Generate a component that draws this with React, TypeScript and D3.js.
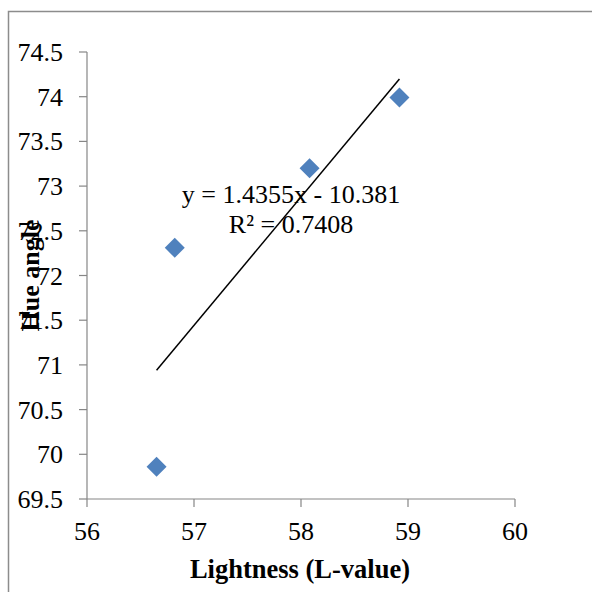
import React, { useEffect, useRef } from 'react';
import * as d3 from 'd3';

// data
const lightness = [56.65, 56.82, 58.08, 58.92];
const hueAngle = [69.86, 72.31, 73.2, 73.99];
const xTicks = [56, 57, 58, 59, 60];
const yTicks = [69.5, 70, 70.5, 71, 71.5, 72, 72.5, 73, 73.5, 74, 74.5];
const slope = 1.4355;
const intercept = -10.381;
const eqLabel = 'y = 1.4355x - 10.381';
const r2Label = 'R² = 0.7408';

const App = () => {
  const svgRef = useRef<SVGSVGElement>(null);

  useEffect(() => {
    const svg = d3.select(svgRef.current);
    svg.selectAll('*').remove();

    const font = '"Liberation Serif", "Times New Roman", serif';
    const axisColor = '#868686';

    const x = d3.scaleLinear().domain([56, 60]).range([87, 515]);
    const y = d3.scaleLinear().domain([69.5, 74.5]).range([499, 52]);

    // outer frame (only top + left visible)
    svg.append('path')
      .attr('d', 'M8.5,592 L8.5,11.5 L592,11.5')
      .attr('fill', 'none')
      .attr('stroke', '#8c8c8c')
      .attr('stroke-width', 1.5);

    // y axis
    svg.append('line')
      .attr('x1', x(56)).attr('x2', x(56))
      .attr('y1', y(69.5)).attr('y2', y(74.5))
      .attr('stroke', axisColor).attr('stroke-width', 1.2);
    const yt = svg.append('g');
    yt.selectAll('line').data(yTicks).enter().append('line')
      .attr('x1', x(56) - 8).attr('x2', x(56))
      .attr('y1', d => y(d)).attr('y2', d => y(d))
      .attr('stroke', axisColor).attr('stroke-width', 1.2);
    yt.selectAll('text').data(yTicks).enter().append('text')
      .attr('x', 63).attr('y', d => y(d) + 9)
      .attr('text-anchor', 'end')
      .style('font-family', font).style('font-size', '26px')
      .text(d => String(d));

    // x axis
    svg.append('line')
      .attr('x1', x(56)).attr('x2', x(60))
      .attr('y1', y(69.5)).attr('y2', y(69.5))
      .attr('stroke', axisColor).attr('stroke-width', 1.2);
    const xt = svg.append('g');
    xt.selectAll('line').data(xTicks).enter().append('line')
      .attr('x1', d => x(d)).attr('x2', d => x(d))
      .attr('y1', y(69.5)).attr('y2', y(69.5) + 8)
      .attr('stroke', axisColor).attr('stroke-width', 1.2);
    xt.selectAll('text').data(xTicks).enter().append('text')
      .attr('x', d => x(d)).attr('y', 540)
      .attr('text-anchor', 'middle')
      .style('font-family', font).style('font-size', '26px')
      .text(d => String(d));

    // trendline
    const x0 = d3.min(lightness)!;
    const x1 = d3.max(lightness)!;
    svg.append('line')
      .attr('x1', x(x0)).attr('y1', y(slope * x0 + intercept))
      .attr('x2', x(x1)).attr('y2', y(slope * x1 + intercept))
      .attr('stroke', '#000').attr('stroke-width', 1.5);

    // points
    const pts = lightness.map((v, i) => [v, hueAngle[i]]);
    svg.append('g').selectAll('path').data(pts).enter().append('path')
      .attr('d', d3.symbol().type(d3.symbolSquare).size(200)())
      .attr('transform', d => `translate(${x(d[0])},${y(d[1])}) rotate(45)`)
      .attr('fill', '#4F81BD');

    // equation
    svg.append('text')
      .attr('x', 291).attr('y', 203)
      .attr('text-anchor', 'middle')
      .style('font-family', font).style('font-size', '26px')
      .text(eqLabel);
    svg.append('text')
      .attr('x', 291).attr('y', 233)
      .attr('text-anchor', 'middle')
      .style('font-family', font).style('font-size', '26px')
      .text(r2Label);

    // axis titles
    svg.append('text')
      .attr('x', 300).attr('y', 578)
      .attr('text-anchor', 'middle')
      .style('font-family', font).style('font-size', '26.5px').style('font-weight', 'bold')
      .text('Lightness (L-value)');
    svg.append('text')
      .attr('transform', `translate(39,${(y(69.5) + y(74.5)) / 2}) rotate(-90)`)
      .attr('text-anchor', 'middle')
      .style('font-family', font).style('font-size', '26px').style('font-weight', 'bold')
      .text('Hue angle');
  }, []);

  return (
    <svg ref={svgRef} width={592} height={592}
      style={{ position: 'absolute', left: 0, top: 0, background: '#fff' }} />
  );
};

export default App;
